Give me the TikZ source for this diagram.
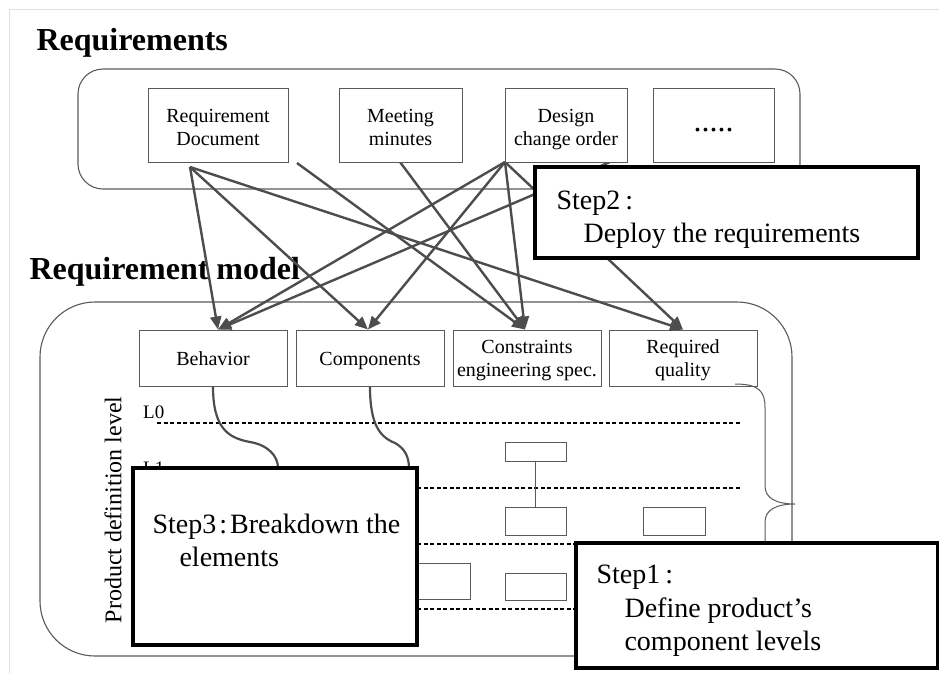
\documentclass[tikz,border=0pt]{standalone}
\usepackage{fontspec}
\setmainfont{Liberation Serif}
\usetikzlibrary{arrows.meta}
\definecolor{boxgray}{HTML}{5A5A5A}
\definecolor{arrgray}{HTML}{4D4D4D}
\begin{document}
\begin{tikzpicture}[x=1pt,y=-1pt,
  rbox/.style={draw=boxgray, line width=1.1pt},
  ibox/.style={draw=boxgray, line width=1pt, fill=white, inner sep=0pt},
  btext/.style={anchor=base, inner sep=0pt, font=\fontsize{20}{23}\selectfont},
  lvbox/.style={draw=boxgray, line width=1pt, fill=white, inner sep=0pt},
  arr/.style={draw=arrgray, line width=2.4pt, -{Triangle[length=13pt,width=11pt]}},
  conn/.style={draw=arrgray, line width=2.2pt},
  lvl/.style={draw=black, line width=1.5pt, dash pattern=on 4pt off 2.5pt},
  stepbox/.style={draw=black, line width=4pt, fill=white, inner sep=0pt},
  steptext/.style={anchor=base west, font=\fontsize{28}{33}\selectfont},
  title/.style={anchor=base west, font=\fontsize{32}{32}\selectfont\bfseries},
]
\useasboundingbox (0,0) rectangle (939,673);
\fill[white] (0,0) rectangle (939,673);
\draw[black!12, line width=1pt] (9,673) -- (9,9) -- (939,9);

% titles
\node[title] (t1) at (33,50) {Requirements};
\node[title] (t2) at (26,279) {Requirement model};

% rounded containers
\draw[rbox, rounded corners=25pt] (78,69) rectangle (800,189);
\draw[rbox, rounded corners=55pt] (40,302) rectangle (792,656);

% arrow sources
\coordinate (sa) at (190,167);
\coordinate (sb) at (297,163);
\coordinate (sc) at (400,162);
\coordinate (sd) at (505,162);
\coordinate (se) at (610,162);

% bottom row boxes
\node[ibox, minimum width=148pt, minimum height=56pt] (beh) at (213,358) {};
\node[ibox, minimum width=148pt, minimum height=56pt] (cmp) at (370,358) {};
\node[ibox, minimum width=148pt, minimum height=56pt] (cst) at (527,358) {};
\node[ibox, minimum width=148pt, minimum height=56pt] (rq) at (683,358) {};
\node[btext] (beht) at (213,365) {Behavior};
\node[btext] (cmpt) at (370,365) {Components};
\node[btext] (cstt1) at (527,353) {Constraints};
\node[btext] (cstt2) at (527,376) {engineering spec.};
\node[btext] (rqt1) at (683,353) {Required};
\node[btext] (rqt2) at (683,376) {quality};

% arrows
\draw[arr] (sa) -- ([xshift=5pt]beh.north);
\draw[arr] (sa) -- ([xshift=-2pt]cmp.north);
\draw[arr] (sa) -- (rq.north);
\draw[arr] (sb) -- ([xshift=-2pt]cst.north);
\draw[arr] (sc) -- ([xshift=-2pt]cst.north);
\draw[arr] (sd) -- ([xshift=5pt]beh.north);
\draw[arr] (sd) -- ([xshift=-2pt]cmp.north);
\draw[arr] (sd) -- ([xshift=-2pt]cst.north);
\draw[arr] (sd) -- (rq.north);
\draw[arr] (se) -- ([xshift=5pt]beh.north);

% top row boxes
\node[ibox, minimum width=140pt, minimum height=74pt] (rdoc) at (218,125) {};
\node[ibox, minimum width=123pt, minimum height=74pt] (mm) at (400.5,125) {};
\node[ibox, minimum width=122pt, minimum height=74pt] (dco) at (566,125) {};
\node[ibox, minimum width=121pt, minimum height=74pt] (dots) at (713.5,125) {};
\node[btext] (rdoct1) at (218,122) {Requirement};
\node[btext] (rdoct2) at (218,145) {Document};
\node[btext] (mmt1) at (400.5,122) {Meeting};
\node[btext] (mmt2) at (400.5,145) {minutes};
\node[btext] (dcot1) at (566,122) {Design};
\node[btext] (dcot2) at (566,145) {change order};
\node[anchor=base, font=\fontsize{32}{32}\selectfont, inner sep=0pt] (dotst) at (713.5,131) {.....};

% levels
\node[rotate=90, font=\fontsize{24}{24}\selectfont, inner sep=0pt] (pdl) at (113,510) {Product definition level};
\node[anchor=base west, font=\fontsize{19}{19}\selectfont, inner sep=0pt] (l0) at (143,418) {L0};
\node[anchor=base west, font=\fontsize{19}{19}\selectfont, inner sep=0pt] (l1) at (143,474) {L1};
\coordinate (d0a) at (157,423); \coordinate (d0b) at (740,423);
\coordinate (d1a) at (157,488); \coordinate (d1b) at (740,488);
\coordinate (d2a) at (157,544); \coordinate (d2b) at (740,544);
\coordinate (d3a) at (157,609); \coordinate (d3b) at (740,609);
\draw[lvl] (d0a) -- (d0b);
\draw[lvl] (d1a) -- (d1b);
\draw[lvl] (d2a) -- (d2b);
\draw[lvl] (d3a) -- (d3b);

\node[lvbox, minimum width=61pt, minimum height=19pt] (r1) at (535.5,451.5) {};
\node[lvbox, minimum width=61pt, minimum height=28pt] (r2) at (535.5,521) {};
\node[lvbox, minimum width=62pt, minimum height=28pt] (r3) at (674,521) {};
\node[lvbox, minimum width=65pt, minimum height=36pt] (r4) at (437.5,581) {};
\node[lvbox, minimum width=61pt, minimum height=27pt] (r5) at (535.5,586.5) {};
\draw[draw=boxgray, line width=1pt] (r1.south) -- (r2.north);

% brace
\coordinate (bs) at (735,384);
\draw[draw=boxgray, line width=1pt] (bs) .. controls (760,384) and (765,392) .. (765,408)
  -- (765,486) .. controls (765,498) and (776,504) .. (795,504)
  .. controls (776,504) and (765,510) .. (765,522) -- (765,560);

% step3 connectors
\coordinate (c1) at (278,468);
\coordinate (c2) at (409,468);
\draw[conn] (beh.south) .. controls (213,428) and (228,438) .. (250,442)
  .. controls (268,445) and (278,456) .. (c1);
\draw[conn] (cmp.south) .. controls (370,425) and (380,437) .. (395,443)
  .. controls (404,448) and (409,456) .. (c2);

% step boxes
\node[stepbox, minimum width=383pt, minimum height=91pt] (s2) at (726.5,212.5) {};
\node[steptext] (s2a) at (553,209) {Step2\hspace{5pt}:};
\node[steptext] (s2b) at (580,242) {Deploy the requirements};

\node[stepbox, minimum width=284pt, minimum height=177pt] (s3) at (275,556.5) {};
\node[steptext] (s3a) at (149,533) {Step3\hspace{3pt}:\hspace{3pt}Breakdown the};
\node[steptext] (s3b) at (176,566) {elements};

\node[stepbox, minimum width=362pt, minimum height=125pt] (s1) at (757,605.5) {};
\node[steptext] (s1a) at (593,583) {Step1\hspace{5pt}:};
\node[steptext] (s1b) at (621,617) {Define product’s};
\node[steptext] (s1c) at (621,650) {component levels};
\end{tikzpicture}
\end{document}
